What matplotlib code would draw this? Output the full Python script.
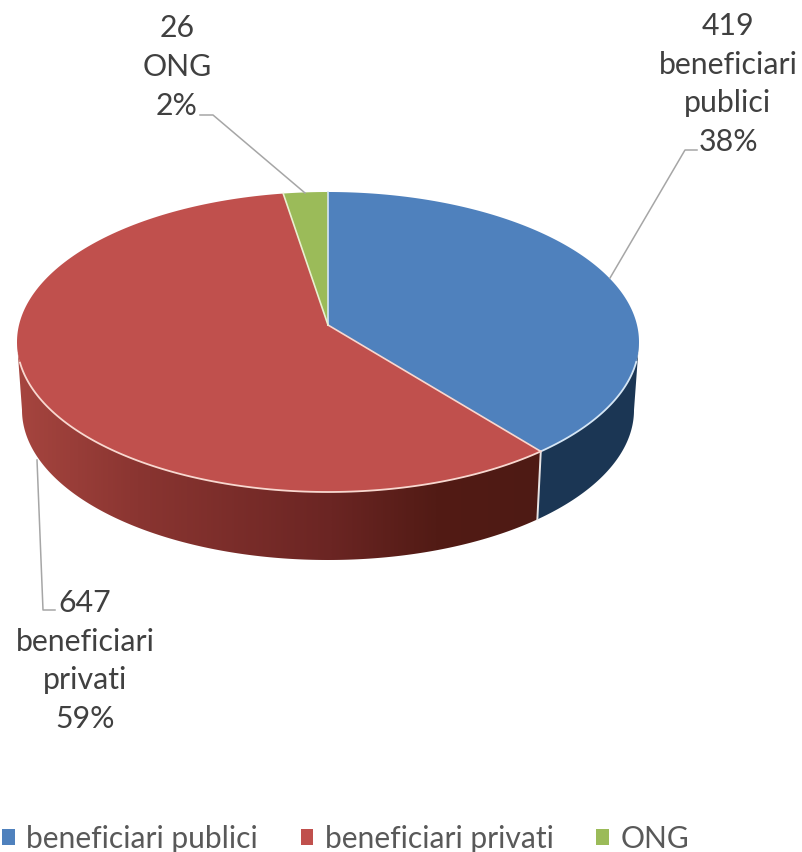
import numpy as np
import matplotlib
matplotlib.use("Agg")
import matplotlib.pyplot as plt
from matplotlib.patches import Patch, Polygon
from matplotlib.colors import LinearSegmentedColormap

names = ["beneficiari publici", "beneficiari privati", "ONG"]
counts = [419, 647, 26]
percents = ["38%", "59%", "2%"]
label_lines = [["beneficiari", "publici"], ["beneficiari", "privati"], ["ONG"]]

colors = ["#4F81BD", "#C0504D", "#9BBB59"]
rim_colors = ["#D5E6F5", "#F8D8D0", "#E8F0D0"]

plt.rcParams["font.family"] = ["Lato", "DejaVu Sans"]

# everything is placed in pixels of the 802x852 picture
fig = plt.figure(figsize=(8.02, 8.52), dpi=100)
ax = fig.add_axes([0, 0, 1, 1])
ax.axis("off")

# pie geometry
cx, cy = 328, 342
rx, ry = 311, 150
bottom_cy, bottom_rx, bottom_ry = 410, 306, 150
vx, vy = 328, 325


def top_point(theta):
    return cx + rx * np.sin(theta), cy - ry * np.cos(theta)


def bottom_point(theta):
    return cx + bottom_rx * np.sin(theta), bottom_cy - bottom_ry * np.cos(theta)


shares = np.array(counts) / sum(counts)
edges = np.concatenate([[0], np.cumsum(shares)]) * 2 * np.pi
# small foreshortening of the angles, the tilted pie squeezes them a bit
edges = edges - np.radians(1.95) * np.sin(edges)

# side wall, only the part that faces us
red_side = LinearSegmentedColormap.from_list(
    "red_side", [(0, "#A6453F"), (0.23, "#8A3531"), (0.6, "#6B2523"), (0.8, "#521B15"), (1, "#4E1A14")])


def wall_polygon(start, stop):
    t = np.linspace(start, stop, 200)
    x1, y1 = top_point(t)
    x2, y2 = bottom_point(t[::-1])
    return np.column_stack([np.r_[x1, x2], np.r_[y1, y2]])


blue_wall = Polygon(wall_polygon(np.pi / 2, edges[1]), facecolor="#1B3654", edgecolor="none", zorder=1)
ax.add_patch(blue_wall)

red_wall = Polygon(wall_polygon(edges[1], 3 * np.pi / 2), facecolor="none", edgecolor="none", zorder=1)
ax.add_patch(red_wall)
gradient = np.linspace(0, 1, 512).reshape(1, -1)
img = ax.imshow(gradient, cmap=red_side, extent=(17, 541, 570, 340), aspect="auto", zorder=1,
                interpolation="bilinear")
img.set_clip_path(red_wall)

ax.set_xlim(0, 802)
ax.set_ylim(852, 0)

# white seam between the walls
sx, sy = top_point(edges[1])
sx2, sy2 = bottom_point(edges[1])
ax.plot([sx, sx2], [sy, sy2], color="#E8E4E4", lw=1.4, zorder=2)

# top face
for i in range(len(counts)):
    t = np.linspace(edges[i], edges[i + 1], 200)
    xs, ys = top_point(t)
    ax.fill(np.r_[vx, xs], np.r_[vy, ys], color=colors[i], lw=0, zorder=3)
    # the light rim only shows on the front
    front = (t > np.radians(97)) & (t < np.radians(263))
    ax.plot(xs[front], ys[front], color=rim_colors[i], lw=1.3, zorder=4)
for i in range(len(counts)):
    ex, ey = top_point(edges[i])
    ax.plot([vx, ex], [vy, ey], color=rim_colors[i], lw=1.2, zorder=5)

# leader lines
leader_color = "#A6A6A6"
ax.plot([697, 685, 610], [150, 150, 278], color=leader_color, lw=1.1, zorder=6)
ax.plot([55, 43, 37], [610, 610, 460], color=leader_color, lw=1.1, zorder=6)
ax.plot([200, 213, 305], [115, 115, 193], color=leader_color, lw=1.1, zorder=6)

# data labels
label_pos = [(728, 84), (85, 661), (177, 67)]
for i in range(len(counts)):
    text = "\n".join([str(counts[i])] + label_lines[i] + [percents[i]])
    ax.text(label_pos[i][0], label_pos[i][1], text, ha="center", va="center", multialignment="center",
            fontsize=21.8, color="#404040", linespacing=1.47, zorder=7)

handles = [Patch(facecolor=colors[i], edgecolor="none", label=names[i]) for i in range(len(names))]
ax.legend(handles=handles, loc="lower left", bbox_to_anchor=(-0.005, -0.008), ncol=3, frameon=False,
          fontsize=21.6, labelcolor="#595959", handlelength=0.42, handleheight=0.42,
          handletextpad=0.38, columnspacing=1.43, borderpad=0.1, borderaxespad=0.1)

fig.savefig("out.png", dpi=100)
